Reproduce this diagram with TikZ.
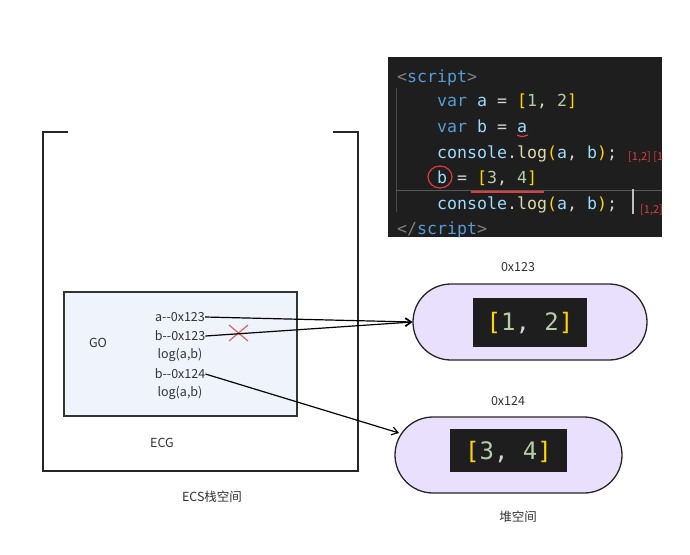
\documentclass[tikz,border=0pt]{standalone}
\usepackage{fontspec}
\setmainfont{Noto Sans CJK SC}
\newfontfamily\codefont{DejaVu Sans Mono}
\usetikzlibrary{arrows.meta}
\definecolor{codebg}{HTML}{1E1E1E}
\definecolor{ckw}{HTML}{569CD6}
\definecolor{cvar}{HTML}{9CDCFE}
\definecolor{cpun}{HTML}{D4D4D4}
\definecolor{cbr}{HTML}{FFD700}
\definecolor{cnum}{HTML}{B5CEA8}
\definecolor{cfn}{HTML}{DCDCAA}
\definecolor{ctag}{HTML}{808080}
\definecolor{gofill}{HTML}{EEF3FC}
\definecolor{pillfill}{HTML}{E8E0FC}
\definecolor{redmark}{HTML}{E03C3C}
\definecolor{xred}{HTML}{E06060}
\tikzset{
  lbl/.style={font=\fontsize{12.5}{14}\selectfont, text=black!80, inner sep=0pt},
  code/.style={anchor=base west, inner sep=0pt, font=\codefont\fontsize{16.6}{20}\selectfont},
  big/.style={inner sep=0pt, font=\codefont\fontsize{24}{28}\selectfont},
  note/.style={anchor=base west, inner sep=0pt, text=redmark, font=\fontsize{11}{12}\selectfont},
  pill/.style={draw=black!85, line width=1.3pt, fill=pillfill, rounded corners=38pt, minimum height=76pt, inner sep=0pt},
  conn/.style={draw=black, line width=1.2pt, -{Straight Barb[length=6pt,width=8pt]}},
}
\begin{document}
\begin{tikzpicture}[x=1pt,y=-1pt]
\useasboundingbox (0,0) rectangle (690,554);
% ---------- code block ----------
\begin{scope}
\clip (388,57) rectangle (662,237);
\fill[codebg] (388,57) rectangle (662,237);
\draw[black!70, line width=0.6pt] (396,88) -- (396,212);
\draw[black!65, line width=0.6pt] (396,190) -- (662,190);
\node[code] (l1) at (397,82) {\textcolor{ctag}{<}\textcolor{ckw}{script}\textcolor{ctag}{>}};
\node[code] (l2) at (437,106) {\textcolor{ckw}{var} \textcolor{cvar}{a} \textcolor{cpun}{=} \textcolor{cbr}{[}\textcolor{cnum}{1}\textcolor{cpun}{,} \textcolor{cnum}{2}\textcolor{cbr}{]}};
\node[code] (l3) at (437,132) {\textcolor{ckw}{var} \textcolor{cvar}{b} \textcolor{cpun}{=} \textcolor{cvar}{a}};
\node[code] (l4) at (437,158) {\textcolor{cvar}{console}\textcolor{cpun}{.}\textcolor{cfn}{log}\textcolor{cbr}{(}\textcolor{cvar}{a}\textcolor{cpun}{,} \textcolor{cvar}{b}\textcolor{cbr}{)}\textcolor{cpun}{;}};
\node[code] (l5) at (437,183) {\textcolor{cvar}{b} \textcolor{cpun}{=} \textcolor{cbr}{[}\textcolor{cnum}{3}\textcolor{cpun}{,} \textcolor{cnum}{4}\textcolor{cbr}{]}};
\node[code] (l6) at (437,209) {\textcolor{cvar}{console}\textcolor{cpun}{.}\textcolor{cfn}{log}\textcolor{cbr}{(}\textcolor{cvar}{a}\textcolor{cpun}{,} \textcolor{cvar}{b}\textcolor{cbr}{)}\textcolor{cpun}{;}};
\node[code] (l7) at (397,234) {\textcolor{ctag}{</}\textcolor{ckw}{script}\textcolor{ctag}{>}};
\node[note] (n1) at (628,160) {[1,2] [1,2]};
\node[note] (n2) at (640,213) {[1,2] [1,2]};
\fill[black!25] (632,189) rectangle (634,214);
\draw[redmark, line width=1.2pt] (517,135) .. controls (522,137) .. (528,135);
\draw[redmark, line width=1.3pt] (471,192) -- (544,192);
\draw[redmark, line width=1.2pt] (440,177) ellipse (12pt and 11pt);
\end{scope}
% ---------- stack ----------
\draw[black!85, line width=1.5pt] (68,132) -- (43,132) -- (43,471) -- (358,471) -- (358,132) -- (333,132);
\node[draw=black!80, line width=1.3pt, fill=gofill, minimum width=233pt, minimum height=124pt, inner sep=0pt] (go) at (180.5,354) {};
\node[lbl] (golbl) at (98,343) {GO};
\node[lbl] (v1) at (180,317) {a-{}-0x123};
\node[lbl] (v2) at (180,336) {b-{}-0x123};
\node[lbl] (v3) at (180,355) {log(a,b)};
\node[lbl] (v4) at (180,374) {b-{}-0x124};
\node[lbl] (v5) at (180,393) {log(a,b)};
\node[lbl] (ecg) at (162,443) {ECG};
\node[lbl] (ecs) at (212,497) {ECS栈空间};
\draw[xred, line width=1.2pt] (229,325) -- (248,341) (229,341) -- (248,325);
% ---------- heap ----------
\node[pill, minimum width=234pt] (p1) at (530,322) {};
\fill[codebg] (473,298) rectangle (587,347);
\node[big] (a1) at (530,323) {\textcolor{cbr}{[}\textcolor{cnum}{1}\textcolor{cpun}{,} \textcolor{cnum}{2}\textcolor{cbr}{]}};
\node[lbl] (h1) at (518,267) {0x123};
\node[pill, minimum width=227pt] (p2) at (508.5,455) {};
\fill[codebg] (450,429) rectangle (567,472);
\node[big] (a2) at (508.5,452) {\textcolor{cbr}{[}\textcolor{cnum}{3}\textcolor{cpun}{,} \textcolor{cnum}{4}\textcolor{cbr}{]}};
\node[lbl] (h2) at (508,401) {0x124};
\node[lbl] (heap) at (518,517) {堆空间};
% ---------- connectors ----------
\coordinate (t2) at (399,433);
\draw[conn] (v1.east) -- (p1.west);
\draw[conn] (v2.east) -- (p1.west);
\draw[conn] (v4.east) -- (t2);
\end{tikzpicture}
\end{document}
